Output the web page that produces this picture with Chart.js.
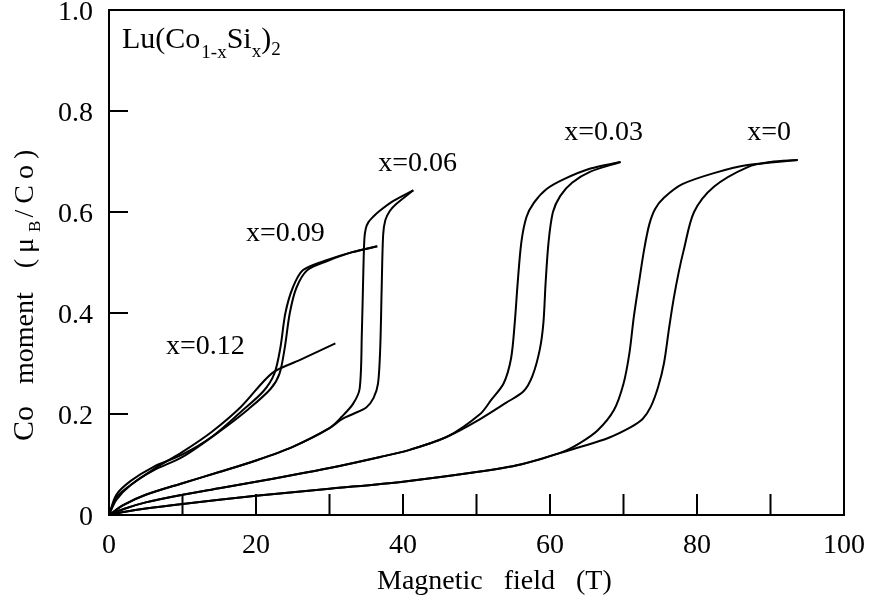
<!DOCTYPE html>
<html>
<head>
<meta charset="utf-8">
<script src="https://cdn.jsdelivr.net/npm/chart.js@4/dist/chart.umd.min.js"></script>
<style>
html, body { margin: 0; padding: 0; background: #fff; }
</style>
</head>
<body>
<canvas id="myChart" width="872" height="599"></canvas>
<script>
// Co moment vs field for Lu(Co1-xSix)2, rising and falling sweeps
const x0UpField    = [0, 2, 5, 10, 20, 30, 40, 50, 56, 61.4, 64.2, 68, 71, 72.6, 73.7, 74.7, 75.5, 76.2, 76.8, 77.5, 78.2, 79.6, 82.3, 86.9, 90, 93.7];
const x0UpMoment   = [0, 0.006, 0.013, 0.022, 0.038, 0.052, 0.066, 0.085, 0.1, 0.123, 0.135, 0.153, 0.174, 0.19, 0.214, 0.253, 0.3, 0.37, 0.426, 0.48, 0.525, 0.6, 0.65, 0.689, 0.699, 0.703];
const x0DownField  = [0, 2, 5, 10, 20, 30, 40, 50, 56, 61.4, 64, 66.5, 68.7, 70, 70.8, 71.4, 72.1, 72.8, 73.5, 74.3, 75.5, 78, 82.3, 86.9, 93.7];
const x0DownMoment = [0, 0.006, 0.013, 0.022, 0.038, 0.052, 0.066, 0.085, 0.1, 0.123, 0.142, 0.168, 0.208, 0.26, 0.32, 0.392, 0.46, 0.525, 0.575, 0.606, 0.628, 0.655, 0.677, 0.693, 0.703];

const x03UpField    = [0, 2, 5, 10, 15, 20, 25, 30, 36.9, 40.9, 46, 50.5, 54, 56.4, 57.6, 58.6, 59.1, 59.4, 59.8, 60.4, 61.4, 63, 65.5, 69.6];
const x03UpMoment   = [0, 0.012, 0.025, 0.04, 0.053, 0.066, 0.079, 0.093, 0.115, 0.129, 0.155, 0.19, 0.222, 0.245, 0.275, 0.327, 0.38, 0.459, 0.54, 0.6, 0.632, 0.658, 0.68, 0.699];
const x03DownField  = [0, 2, 5, 10, 15, 20, 25, 30, 36.9, 40.9, 46, 50.5, 52, 53.7, 54.7, 55.2, 55.6, 56.1, 56.8, 57.8, 59.5, 61.9, 65.5, 69.6];
const x03DownMoment = [0, 0.012, 0.025, 0.04, 0.053, 0.066, 0.079, 0.093, 0.115, 0.129, 0.155, 0.2, 0.228, 0.261, 0.31, 0.38, 0.459, 0.54, 0.59, 0.618, 0.645, 0.665, 0.686, 0.699];

const x06UpField    = [0, 2, 5, 10, 15, 20, 25, 30, 31.7, 33.2, 35, 36, 36.6, 36.9, 37.1, 37.3, 37.6, 38.2, 39, 41.4];
const x06UpMoment   = [0, 0.02, 0.04, 0.063, 0.085, 0.108, 0.135, 0.172, 0.19, 0.2, 0.213, 0.232, 0.26, 0.33, 0.45, 0.555, 0.584, 0.602, 0.615, 0.643];
const x06DownField  = [0, 2, 5, 10, 15, 20, 25, 30, 31.7, 33.2, 34.1, 34.4, 34.6, 34.75, 34.95, 35.3, 35.9, 36.8, 38.7, 41.4];
const x06DownMoment = [0, 0.02, 0.04, 0.063, 0.085, 0.108, 0.135, 0.172, 0.195, 0.22, 0.25, 0.36, 0.48, 0.548, 0.568, 0.58, 0.59, 0.602, 0.622, 0.643];

const x09UpField    = [0, 1, 3, 6, 10, 14, 18, 21, 22.5, 23.3, 24, 25, 26.4, 29.7, 33.2, 36.5];
const x09UpMoment   = [0, 0.04, 0.068, 0.095, 0.12, 0.155, 0.205, 0.245, 0.28, 0.33, 0.4, 0.45, 0.485, 0.505, 0.521, 0.532];
const x09DownField  = [0, 1, 3, 6, 10, 15, 19, 22, 23.2, 23.9, 24.6, 25.5, 27, 29.7, 33, 36.5];
const x09DownMoment = [0, 0.03, 0.06, 0.088, 0.115, 0.165, 0.21, 0.25, 0.28, 0.33, 0.4, 0.45, 0.485, 0.503, 0.52, 0.532];

const x12Field  = [0, 1, 3, 6, 10, 14, 18, 22.2, 26, 30.8];
const x12Moment = [0, 0.035, 0.06, 0.09, 0.125, 0.165, 0.215, 0.281, 0.307, 0.34];

const curveLabels = ["x=0.12", "x=0.09", "x=0.06", "x=0.03", "x=0"];
const labelField  = [13.1, 24.0, 42.0, 67.3, 89.8];
const labelMoment = [0.333, 0.558, 0.695, 0.758, 0.758];

const xTicks = [0, 20, 40, 60, 80, 100];
const yTicks = [0, 0.2, 0.4, 0.6, 0.8, 1.0];

function pts(xs, ys) {
    return xs.map(function(v, i) { return { x: v, y: ys[i] }; });
}

function curve(xs, ys) {
    return {
        data: pts(xs, ys),
        showLine: true,
        borderColor: "#000",
        borderWidth: 2,
        pointRadius: 0,
        tension: 0.3,
        fill: false
    };
}

var serif = "'Liberation Serif', 'DejaVu Serif', serif";

// draws text pieces one after another, some as subscripts
function richText(ctx, parts, x, y) {
    parts.forEach(function(p) {
        ctx.font = p.size + "px " + serif;
        ctx.letterSpacing = (p.ls || 0) + "px";
        ctx.fillText(p.t, x + (p.dx || 0), y + (p.dy || 0));
        x += ctx.measureText(p.t).width + (p.dx || 0);
    });
    ctx.letterSpacing = "0px";
}

const frameAndText = {
    id: 'frameAndText',
    afterDraw: function(chart) {
        var ctx = chart.ctx;
        var a = chart.chartArea;
        var xs = chart.scales.x, ys = chart.scales.y;
        ctx.save();
        ctx.strokeStyle = "#000";
        ctx.lineWidth = 2;
        ctx.strokeRect(a.left, a.top, a.right - a.left, a.bottom - a.top);

        // inward ticks
        ctx.beginPath();
        for (var v = 10; v < 100; v += 10) {
            var px = xs.getPixelForValue(v);
            ctx.moveTo(px, a.bottom);
            ctx.lineTo(px, a.bottom - 21);
        }
        for (var w = 0.2; w < 0.95; w += 0.2) {
            var py = ys.getPixelForValue(w);
            ctx.moveTo(a.left, py);
            ctx.lineTo(a.left + 19, py);
        }
        ctx.stroke();

        ctx.fillStyle = "#000";
        ctx.textBaseline = "middle";
        ctx.textAlign = "center";
        ctx.font = "28px " + serif;
        curveLabels.forEach(function(t, i) {
            ctx.fillText(t, xs.getPixelForValue(labelField[i]), ys.getPixelForValue(labelMoment[i]));
        });

        ctx.textBaseline = "alphabetic";
        ctx.textAlign = "left";
        richText(ctx, [
            { t: "Lu(Co", size: 30 },
            { t: "1-x", size: 19, dy: 10, dx: 1 },
            { t: "Si", size: 30 },
            { t: "x", size: 19, dy: 9 },
            { t: ")", size: 30 },
            { t: "2", size: 19, dy: 7 }
        ], 122, 48);

        ctx.font = "28px " + serif;
        ctx.fillText("Magnetic   field   (T)", 377, 589);

        ctx.translate(33, 441);
        ctx.rotate(-Math.PI / 2);
        richText(ctx, [
            { t: "Co", size: 30 },
            { t: "moment", size: 28, dx: 22 },
            { t: "(\u03bc", size: 28, dx: 24, ls: 6 },
            { t: "B", size: 17, dy: 7, ls: 3 },
            { t: "/Co)", size: 28, ls: 6 }
        ], 0, 0);
        ctx.restore();
    }
};

new Chart("myChart", {
    type: "scatter",
    data: {
        datasets: [
            curve(x0UpField, x0UpMoment),
            curve(x0DownField, x0DownMoment),
            curve(x03UpField, x03UpMoment),
            curve(x03DownField, x03DownMoment),
            curve(x06UpField, x06UpMoment),
            curve(x06DownField, x06DownMoment),
            curve(x09UpField, x09UpMoment),
            curve(x09DownField, x09DownMoment),
            curve(x12Field, x12Moment)
        ]
    },
    options: {
        responsive: false,
        animation: false,
        layout: { padding: { top: 10, right: 28, left: 0, bottom: 0 } },
        plugins: {
            legend: { display: false },
            tooltip: { enabled: false }
        },
        scales: {
            x: {
                type: "linear",
                min: 0,
                max: 100,
                afterFit: function(s) { s.height = 84; s.paddingLeft = 0; s.paddingRight = 0; },
                afterBuildTicks: function(s) { s.ticks = xTicks.map(function(v) { return { value: v }; }); },
                grid: { display: false, drawTicks: false },
                border: { display: false },
                ticks: {
                    padding: 14,
                    color: "#000",
                    font: { family: serif, size: 28 }
                }
            },
            y: {
                type: "linear",
                min: 0,
                max: 1,
                afterFit: function(s) { s.width = 109; s.paddingTop = 0; s.paddingBottom = 0; },
                afterBuildTicks: function(s) { s.ticks = yTicks.map(function(v) { return { value: v }; }); },
                grid: { display: false, drawTicks: false },
                border: { display: false },
                ticks: {
                    padding: 16,
                    labelOffset: 3,
                    color: "#000",
                    font: { family: serif, size: 28 },
                    callback: function(v) { return v === 0 ? "0" : v.toFixed(1); }
                }
            }
        }
    },
    plugins: [frameAndText]
});
</script>
</body>
</html>
